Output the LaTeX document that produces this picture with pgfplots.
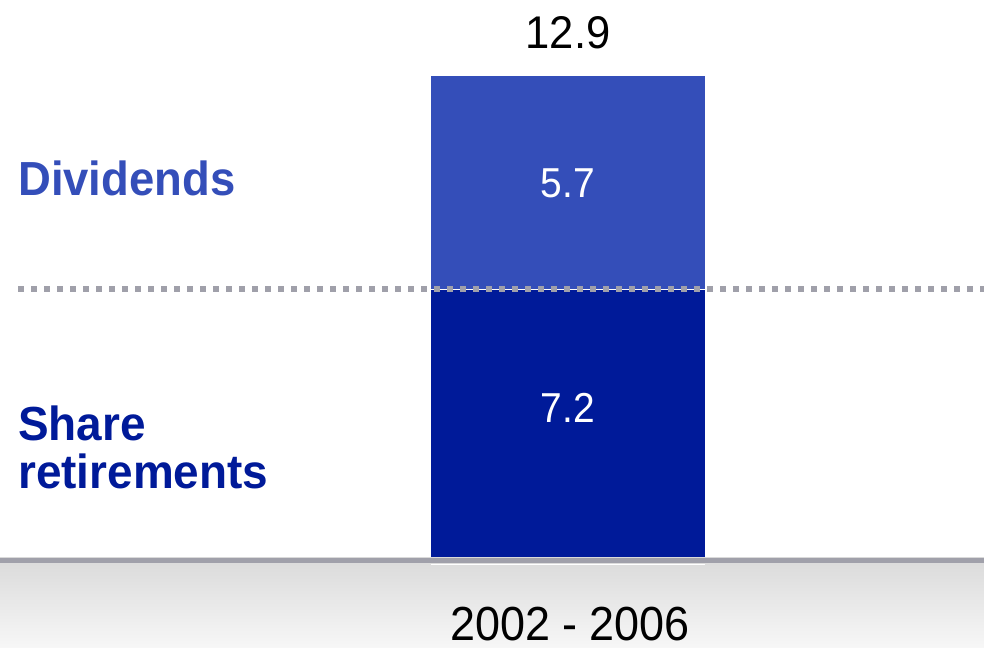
\documentclass[border=0pt]{standalone}
\usepackage{pgfplots}
\pgfplotsset{compat=1.18}
\usepackage{fontspec}
\setmainfont{Liberation Sans}
\definecolor{divblue}{RGB}{52,78,185}
\definecolor{sharblue}{RGB}{0,26,153}
\definecolor{dotgray}{RGB}{160,160,170}
\begin{document}
\begin{tikzpicture}
\begin{axis}[
  scale only axis, width=984bp, height=648bp,
  xmin=0, xmax=984, ymin=-2.409, ymax=14.934,
  axis lines=none, ticks=none, clip=false,
  ybar stacked, bar width=274,
]
\addplot[fill=sharblue, draw=none] coordinates {(568,7.2)};
\addplot[fill=divblue, draw=none] coordinates {(568,5.7)};
\coordinate (F0) at (axis cs:0,0);
\coordinate (F1) at (axis cs:984,-2.409);
\coordinate (L0) at (axis cs:0,-0.07);
\coordinate (L1) at (axis cs:984,-0.07);
\coordinate (W0) at (axis cs:431,-0.17);
\coordinate (W1) at (axis cs:705,-0.17);
\coordinate (M0) at (axis cs:431,7.2);
\coordinate (M1) at (axis cs:705,7.2);
\coordinate (D0) at (axis cs:18,7.2);
\coordinate (D1) at (axis cs:984,7.2);
\coordinate (T) at (axis cs:568,14.05);
\coordinate (A) at (axis cs:568,10.04);
\coordinate (B) at (axis cs:568,4.01);
\coordinate (X) at (axis cs:570,-1.77);
\coordinate (Dv) at (axis cs:18,10.17);
\coordinate (Sr) at (axis cs:18,2.97);
\end{axis}
\shade[top color={rgb,255:red,218;green,218;blue,218}, bottom color={rgb,255:red,247;green,247;blue,247}]
  (F0) rectangle (F1);
\draw[dotgray, line width=5bp] (L0) -- (L1);
\draw[white, line width=0.8bp] (W0) -- (W1);
\draw[white, line width=0.8bp] (M0) -- (M1);
\draw[dotgray, line width=6bp, dash pattern=on 6bp off 7bp] (D0) -- (D1);
\node[font=\fontsize{46}{50}\selectfont] at (T) {\scalebox{0.95}[1]{12.9}};
\node[font=\fontsize{42}{46}\selectfont, text=white] at (A) {\scalebox{0.93}[1]{5.7}};
\node[font=\fontsize{42}{46}\selectfont, text=white] at (B) {\scalebox{0.93}[1]{7.2}};
\node[inner sep=0pt, font=\fontsize{48}{52}\selectfont] at (X) {\scalebox{0.94}[1]{2002 - 2006}};
\node[anchor=west, inner sep=0pt, font=\bfseries\fontsize{48}{52}\selectfont, text=divblue] at (Dv) {\scalebox{0.95}[1]{Dividends}};
\node[anchor=west, inner sep=0pt, align=left, font=\bfseries\fontsize{48}{50}\selectfont, text=sharblue] at (Sr) {\scalebox{0.96}[1]{Share}\\[-2pt]\scalebox{0.96}[1]{retirements}};
\pgfresetboundingbox
\path (current axis.south west) rectangle (current axis.north east);
\end{tikzpicture}
\end{document}
